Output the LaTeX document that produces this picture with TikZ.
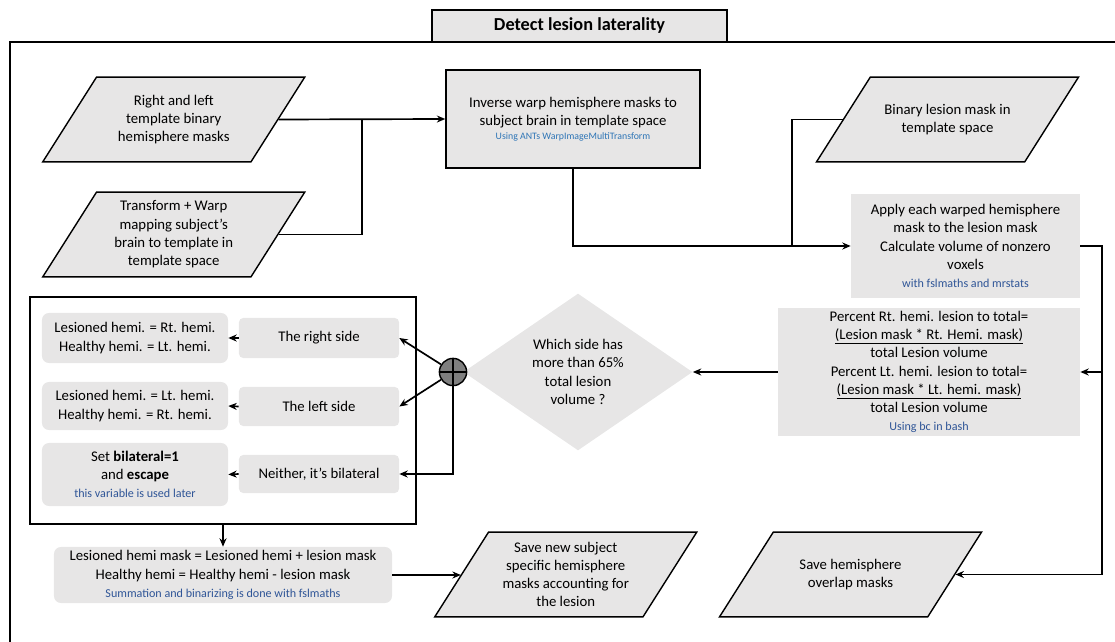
\documentclass[tikz,border=0pt]{standalone}
\usepackage{fontspec}
\setmainfont{Carlito}
\usetikzlibrary{arrows.meta, shapes.geometric}

\definecolor{boxgray}{HTML}{E7E6E6}
\definecolor{sumgray}{HTML}{7F7F7F}
\definecolor{notedark}{HTML}{2F5597}
\definecolor{notelight}{HTML}{2E75B6}
\newcommand\mainsz{\fontsize{10.5}{13}\selectfont}
\newcommand\notesz{\fontsize{8.6}{10.5}\selectfont}
\newcommand\darknote[1]{{\notesz\color{notedark}#1}}
\newcommand\iotext[1]{\parbox[c][1.98cm][c]{3.6cm}{\centering #1}}

\begin{document}
\begin{tikzpicture}[x=0.025cm, y=-0.025cm, >={Stealth[length=6pt,width=5pt]},
  every node/.style={align=center, font=\mainsz, inner sep=2pt},
  io/.style={trapezium, trapezium left angle=57.6, trapezium right angle=122.4, trapezium stretches body, draw, line width=1pt, fill=boxgray, minimum width=6.55cm},
  proc/.style={rectangle, fill=boxgray},
  res/.style={rectangle, fill=boxgray, rounded corners=5pt},
  link/.style={line width=1.2pt}]
\useasboundingbox (0,0) rectangle (1115,642);

\draw[line width=1pt] (10,660) -- (10,42) -- (1125,42);
\node[draw, line width=1pt, fill=boxgray, minimum width=7.375cm, minimum height=0.8cm, font=\fontsize{13}{15}\selectfont\bfseries] (title) at (579.5,26) {Detect lesion laterality};

\node[io] (hemi) at (173.75,119.5) {\iotext{Right and left\\template binary\\hemisphere masks}};
\node[io] (xfm) at (173.75,234.5) {\iotext{Transform + Warp\\mapping subject’s\\brain to template in\\template space}};
\node[proc, draw, line width=1pt, minimum width=6.35cm, minimum height=2.45cm] (warp) at (573,119) {Inverse warp hemisphere masks to\\subject brain in template space\\[-3pt]{\fontsize{7}{8.5}\selectfont\color{notelight}Using ANTs WarpImageMultiTransform}};
\node[io] (lesion) at (947.5,119.5) {\iotext{Binary lesion mask in\\template space}};
\node[proc, minimum width=5.725cm, minimum height=2.6cm] (apply) at (965.5,246) {Apply each warped hemisphere\\mask to the lesion mask\\Calculate volume of nonzero\\voxels\\\darknote{with fslmaths and mrstats}};
\node[proc, minimum width=7.55cm, minimum height=3.1cm] (pct) at (929,372) {Percent Rt. hemi. lesion to total=\\\underline{(Lesion mask * Rt. Hemi. mask)}\\total Lesion volume\\Percent Lt. hemi. lesion to total=\\\underline{(Lesion mask * Lt. hemi. mask)}\\total Lesion volume\\\darknote{Using bc in bash}};
\node[diamond, fill=boxgray, inner sep=0pt, minimum width=5.725cm, minimum height=3.8cm] (side) at (578,372) {Which side has\\more than 65\%\\total lesion\\volume ?};
\node[circle, draw, line width=1pt, fill=sumgray, minimum size=0.68cm, inner sep=0pt] (sum) at (453,372) {};

\node[draw, line width=1pt, minimum width=9.65cm, minimum height=5.675cm] (grp) at (223,410.5) {};
\node[res, minimum width=4.65cm, minimum height=1.25cm] (rtres) at (135,338) {Lesioned hemi. = Rt. hemi.\\Healthy hemi. = Lt. hemi.};
\node[res, minimum width=4.65cm, minimum height=1.2cm] (ltres) at (135,406) {Lesioned hemi. = Lt. hemi.\\Healthy hemi. = Rt. hemi.};
\node[res, minimum width=4.65cm, minimum height=1.575cm] (bires) at (135,474.5) {Set \textbf{bilateral=1}\\and \textbf{escape}\\\darknote{this variable is used later}};
\node[res, rounded corners=3pt, minimum width=4cm, minimum height=1cm] (rt) at (319,338) {The right side};
\node[res, rounded corners=3pt, minimum width=4cm, minimum height=0.975cm] (lt) at (319,406.5) {The left side};
\node[res, rounded corners=3pt, minimum width=4cm, minimum height=0.95cm] (bi) at (319,474) {Neither, it’s bilateral};

\node[res, minimum width=8.45cm, minimum height=1.4cm] (upd) at (223,575) {Lesioned hemi mask = Lesioned hemi + lesion mask\\Healthy hemi = Healthy hemi - lesion mask\\\darknote{Summation and binarizing is done with fslmaths}};
\node[io] (savenew) at (565.75,574.5) {\iotext{Save new subject\\specific hemisphere\\masks accounting for\\the lesion}};
\node[io] (saveovl) at (850.5,574.5) {\iotext{Save hemisphere\\overlap masks}};

\coordinate (lbus) at (362,119.5);
\coordinate (mbus) at (792,246);
\coordinate (rbus) at (1102,246);

\draw[line width=1pt] (sum.north) -- (sum.south);
\draw[line width=1pt] (sum.west) -- (sum.east);

\draw[link, ->] (hemi.east) -- (warp.west);
\draw[link] (xfm.east) -| (lbus);
\draw[link, ->] (warp.south) |- (apply.west);
\draw[link] (lesion.west) -| (mbus);
\draw[link, ->] (apply.east) -- (rbus) |- (saveovl.east);
\draw[link, ->] (rbus |- pct.east) -- (pct.east);
\draw[link, ->] (pct.west) -- (side.east);

\draw[link, ->] (sum) -- (rt.east);
\draw[link, ->] (sum) -- (lt.east);
\draw[link, ->] (sum.south) |- (bi.east);
\draw[link, ->] (rt.west) -- (rtres.east);
\draw[link, ->] (lt.west) -- (ltres.east);
\draw[link, ->] (bi.west) -- (bires.east);

\draw[link, ->] (grp.south) -- (upd.north);
\draw[link, ->] (upd.east) -- (upd.east -| savenew.west);
\end{tikzpicture}
\end{document}
